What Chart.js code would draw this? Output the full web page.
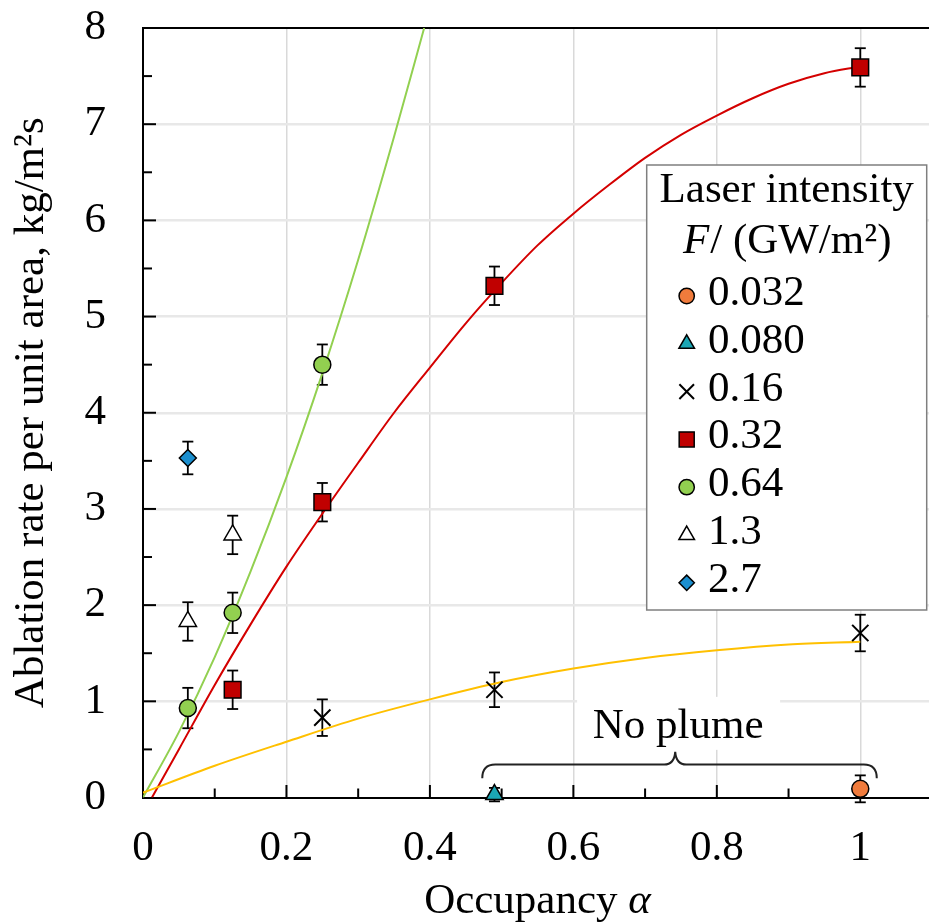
<!DOCTYPE html>
<html>
<head>
<meta charset="utf-8">
<title>Ablation rate vs occupancy</title>
<script src="https://cdn.jsdelivr.net/npm/chart.js@4/dist/chart.umd.min.js"></script>
<style>
  html, body { margin: 0; padding: 0; background: #fff; overflow: hidden; }
  #wrap { position: relative; width: 932px; height: 924px; }
</style>
</head>
<body>
<div id="wrap"><canvas id="chart"></canvas></div>
<script>
const SERIF = '"Liberation Serif", "Times New Roman", serif';

// laser intensity F, GW/m2
const intensityLabels = ['0.032', '0.080', '0.16', '0.32', '0.64', '1.3', '2.7'];

// measured ablation rate (kg/m2s) against occupancy, with error bar half-widths
const occ_0032 = [1.0];
const rate_0032 = [0.09];
const err_0032 = [0.14];

const occ_0080 = [0.49];
const rate_0080 = [0.03];
const err_0080 = [0.07];

const occ_016 = [0.25, 0.49, 1.0];
const rate_016 = [0.83, 1.12, 1.71];
const err_016 = [0.19, 0.18, 0.19];

const occ_032 = [0.125, 0.25, 0.49, 1.0];
const rate_032 = [1.12, 3.07, 5.32, 7.59];
const err_032 = [0.2, 0.2, 0.2, 0.2];

const occ_064 = [0.0625, 0.125, 0.25];
const rate_064 = [0.93, 1.92, 4.5];
const err_064 = [0.21, 0.21, 0.21];

const occ_13 = [0.0625, 0.125];
const rate_13 = [1.83, 2.73];
const err_13 = [0.2, 0.2];

const occ_27 = [0.0625];
const rate_27 = [3.53];
const err_27 = [0.17];

// fitted trend curves
const fit016X = [0, 0.1, 0.2, 0.3, 0.4, 0.5, 0.6, 0.7, 0.8, 0.9, 1.0];
const fit016Y = [0.05, 0.33, 0.58, 0.82, 1.02, 1.2, 1.34, 1.45, 1.53, 1.59, 1.62];

const fit032X = [0.0125, 0.05, 0.1, 0.15, 0.2, 0.25, 0.3, 0.35, 0.4, 0.45, 0.5,
                 0.55, 0.6, 0.65, 0.7, 0.75, 0.8, 0.85, 0.9, 0.95, 1.0];
const fit032Y = [0, 0.5, 1.17, 1.8, 2.4, 2.95, 3.48, 4.0, 4.47, 4.93, 5.35,
                 5.74, 6.07, 6.37, 6.65, 6.89, 7.09, 7.27, 7.42, 7.53, 7.6];

const fit064X = [0, 0.05, 0.1, 0.15, 0.2, 0.25, 0.3, 0.35, 0.392];
const fit064Y = [0, 0.68, 1.46, 2.35, 3.33, 4.41, 5.59, 6.87, 8.0];

function pts(xs, ys) {
  return xs.map((x, i) => ({ x: x, y: ys[i] }));
}

function markerSet(label, xs, ys, errs, style, radius, fill, lw) {
  return {
    label: label,
    data: pts(xs, ys),
    errors: errs,
    showLine: false,
    pointStyle: style,
    pointRadius: radius,
    pointHoverRadius: radius,
    pointBackgroundColor: fill,
    pointBorderColor: '#000',
    pointBorderWidth: lw,
    backgroundColor: fill,
    borderColor: '#000',
    clip: false,
    order: 0
  };
}

function fitSet(xs, ys, color) {
  return {
    data: pts(xs, ys),
    isFit: true,
    showLine: true,
    pointRadius: 0,
    borderColor: color,
    borderWidth: 2,
    cubicInterpolationMode: 'monotone',
    fill: false,
    order: 1
  };
}

const datasets = [
  markerSet(intensityLabels[0], occ_0032, rate_0032, err_0032, 'circle', 8.5, '#f07b3c', 1.5),
  markerSet(intensityLabels[1], occ_0080, rate_0080, err_0080, 'triangle', 10, '#1ba7b5', 1.5),
  markerSet(intensityLabels[2], occ_016, rate_016, err_016, 'crossRot', 11.5, '#000', 2),
  markerSet(intensityLabels[3], occ_032, rate_032, err_032, 'rect', 11.8, '#c00000', 1.5),
  markerSet(intensityLabels[4], occ_064, rate_064, err_064, 'circle', 8.5, '#92d050', 1.5),
  markerSet(intensityLabels[5], occ_13, rate_13, err_13, 'triangle', 10, '#ffffff', 1.5),
  markerSet(intensityLabels[6], occ_27, rate_27, err_27, 'rectRot', 8.5, '#1b8fcf', 1.5),
  fitSet(fit016X, fit016Y, '#ffc000'),
  fitSet(fit032X, fit032Y, '#d40000'),
  fitSet(fit064X, fit064Y, '#92d050')
];

function line(ctx, x1, y1, x2, y2) {
  ctx.beginPath();
  ctx.moveTo(x1, y1);
  ctx.lineTo(x2, y2);
  ctx.stroke();
}

// vertical error bars with caps, and inward tick marks on the axes
const frame = {
  id: 'frame',
  beforeDatasetsDraw(chart) {
    const ctx = chart.ctx, xs = chart.scales.x, ys = chart.scales.y, a = chart.chartArea;
    ctx.save();
    ctx.strokeStyle = '#000';
    ctx.lineWidth = 2;
    for (let k = 1; k <= 10; k++) {
      const px = xs.getPixelForValue(k / 10);
      line(ctx, px, a.bottom, px, a.bottom - (k % 2 === 0 ? 12.5 : 9));
    }
    for (let k = 1; k < 16; k++) {
      const py = ys.getPixelForValue(k / 2);
      line(ctx, a.left, py, a.left + (k % 2 === 0 ? 13 : 9), py);
    }
    line(ctx, a.left - 1, a.top, a.right, a.top);

    ctx.lineWidth = 1.8;
    chart.data.datasets.forEach(ds => {
      if (!ds.errors) return;
      ds.data.forEach((p, i) => {
        const px = xs.getPixelForValue(p.x);
        const top = ys.getPixelForValue(p.y + ds.errors[i]);
        const bot = ys.getPixelForValue(p.y - ds.errors[i]);
        line(ctx, px, top, px, bot);
        line(ctx, px - 5.5, top, px + 5.5, top);
        line(ctx, px - 5.5, bot, px + 5.5, bot);
      });
    });
    ctx.restore();
  }
};

// legend box, "No plume" brace and the x axis title
const notes = {
  id: 'notes',
  afterDraw(chart) {
    const ctx = chart.ctx, xs = chart.scales.x, ys = chart.scales.y, a = chart.chartArea;
    const font = '43px ' + SERIF, ifont = 'italic 43px ' + SERIF;
    ctx.save();
    ctx.fillStyle = '#000';
    ctx.textBaseline = 'alphabetic';

    // "No plume" label over a white patch
    const nx = xs.getPixelForValue(0.746), ny = ys.getPixelForValue(0.62);
    ctx.fillStyle = '#fff';
    ctx.fillRect(nx - 101, ny - 41, 203, 53);
    ctx.fillStyle = '#000';
    ctx.font = font;
    ctx.textAlign = 'center';
    ctx.fillText('No plume', nx, ny);

    // curly brace spanning the runs without a plume
    const bl = xs.getPixelForValue(0.473), br = xs.getPixelForValue(1.023);
    const bm = xs.getPixelForValue(0.742);
    const by = ys.getPixelForValue(0.343), bEnd = ys.getPixelForValue(0.2);
    const bTip = ys.getPixelForValue(0.475);
    ctx.strokeStyle = '#222';
    ctx.lineWidth = 2;
    ctx.beginPath();
    ctx.moveTo(bl, bEnd);
    ctx.quadraticCurveTo(bl, by, bl + 13, by);
    ctx.lineTo(bm - 11, by);
    ctx.quadraticCurveTo(bm - 1, by, bm, bTip);
    ctx.quadraticCurveTo(bm + 1, by, bm + 11, by);
    ctx.lineTo(br - 13, by);
    ctx.quadraticCurveTo(br, by, br, bEnd);
    ctx.stroke();

    // legend
    const L = 646.7, T = 165, R = 926.7, B = 610, cx = (L + R) / 2;
    ctx.fillStyle = '#fff';
    ctx.fillRect(L, T, R - L, B - T);
    ctx.strokeStyle = '#7f7f7f';
    ctx.lineWidth = 1.5;
    ctx.strokeRect(L, T, R - L, B - T);
    ctx.fillStyle = '#000';
    ctx.font = font;
    ctx.textAlign = 'center';
    ctx.fillText('Laser intensity', cx, 202);
    ctx.textAlign = 'left';
    ctx.font = ifont;
    const wF = ctx.measureText('F').width;
    ctx.font = font;
    const rest = '/ (GW/m²)';
    const wR = ctx.measureText(rest).width;
    const sx = cx - (wF + wR) / 2;
    ctx.font = ifont;
    ctx.fillText('F', sx, 253);
    ctx.font = font;
    ctx.fillText(rest, sx + wF + 1, 253);

    chart.data.datasets.forEach((ds, i) => {
      if (ds.isFit) return;
      const base = 305 + i * 47.8;
      ctx.save();
      ctx.fillStyle = ds.pointBackgroundColor;
      ctx.strokeStyle = ds.pointBorderColor;
      ctx.lineWidth = ds.pointBorderWidth;
      Chart.helpers.drawPoint(ctx, {
        pointStyle: ds.pointStyle, rotation: 0,
        radius: ds.pointRadius * 0.9, borderWidth: ds.pointBorderWidth
      }, 686.7, base - 9);
      ctx.restore();
      ctx.fillStyle = '#000';
      ctx.font = font;
      ctx.fillText(ds.label, 708, base);
    });

    // x axis title with italic alpha
    const t1 = 'Occupancy ';
    ctx.font = font;
    const w1 = ctx.measureText(t1).width;
    ctx.font = ifont;
    const w2 = ctx.measureText('α').width;
    const tx = (a.left + a.right) / 2 - (w1 + w2) / 2;
    ctx.font = font;
    ctx.fillText(t1, tx, 913);
    ctx.font = ifont;
    ctx.fillText('α', tx + w1, 913);
    ctx.restore();
  }
};

new Chart(document.getElementById('chart'), {
  type: 'scatter',
  data: { datasets: datasets },
  options: {
    responsive: true,
    maintainAspectRatio: false,
    animation: false,
    events: [],
    layout: { autoPadding: false, padding: { top: 28, left: 0, right: 0, bottom: 0 } },
    plugins: {
      legend: { display: false },
      tooltip: { enabled: false }
    },
    scales: {
      x: {
        type: 'linear',
        min: 0,
        max: 1.1,
        afterFit: s => {
          s.height = 126.5;
          s.paddingLeft = 0;
          s.paddingRight = 0;
        },
        border: { color: '#000', width: 2 },
        grid: {
          drawTicks: false,
          lineWidth: 1.5,
          color: c => (c.tick && c.tick.value > 0.01 ? '#d9d9d9' : 'rgba(0,0,0,0)')
        },
        ticks: {
          stepSize: 0.2,
          includeBounds: false,
          padding: 25,
          maxRotation: 0,
          autoSkip: false,
          color: '#000',
          font: { family: SERIF, size: 43 },
          callback: v => String(Math.round(v * 10) / 10)
        }
      },
      y: {
        type: 'linear',
        min: 0,
        max: 8,
        afterFit: s => {
          s.width = 143;
          s.paddingTop = 0;
          s.paddingBottom = 0;
        },
        border: { color: '#000', width: 2 },
        grid: {
          drawTicks: false,
          lineWidth: 2.5,
          color: c => (c.tick && c.tick.value > 0.01 && c.tick.value < 7.99 ? '#e8e8e8' : 'rgba(0,0,0,0)')
        },
        ticks: {
          stepSize: 1,
          padding: 37,
          color: '#000',
          font: { family: SERIF, size: 43 }
        },
        title: {
          display: true,
          text: 'Ablation rate per unit area, kg/m²s',
          color: '#000',
          font: { family: SERIF, size: 43 },
          padding: { top: 6, bottom: 0 }
        }
      }
    }
  },
  plugins: [frame, notes]
});
</script>
</body>
</html>
